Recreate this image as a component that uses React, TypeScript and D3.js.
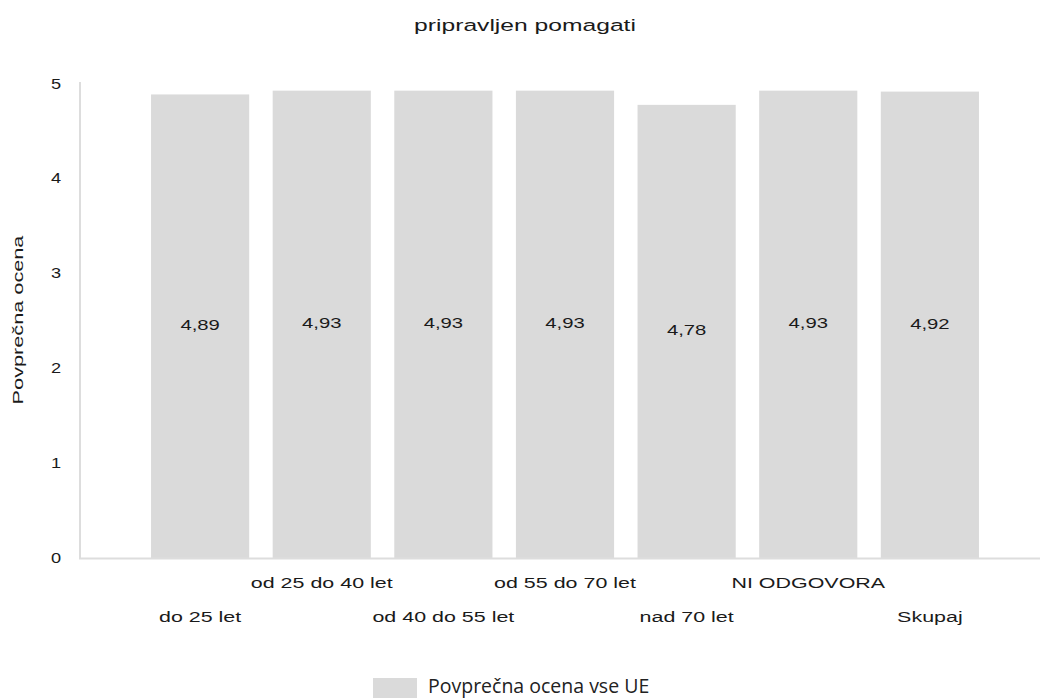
import { useEffect, useRef } from 'react';
import * as d3 from 'd3';

const categories = ['do 25 let', 'od 25 do 40 let', 'od 40 do 55 let', 'od 55 do 70 let', 'nad 70 let', 'NI ODGOVORA', 'Skupaj'];
const values = [4.89, 4.93, 4.93, 4.93, 4.78, 4.93, 4.92];
const yTicks = [0, 1, 2, 3, 4, 5];
const title = 'pripravljen pomagati';
const yLabel = 'Povprečna ocena';
const legendLabel = 'Povprečna ocena vse UE';

const WIDTH = 1041;
const HEIGHT = 700;
const BAR_COLOR = '#dadada';
const AXIS_COLOR = '#dddddd';
const TEXT_COLOR = '#1a1a1a';
const FONT = '"Liberation Sans", Arial, sans-serif';

const App = () => {
  const svgRef = useRef<SVGSVGElement>(null);

  useEffect(() => {
    if (!svgRef.current) return;
    const svg = d3.select(svgRef.current);
    svg.selectAll('*').remove();

    const y = d3.scaleLinear().domain([0, 5]).range([558, 84]);
    const x = d3.scaleBand<string>()
      .domain(categories)
      .range([139.3, 990.7])
      .paddingInner(0.193)
      .paddingOuter(0.0965);

    const fmt = (v: number) => d3.format('.2f')(v).replace('.', ',');

    // title
    svg.append('text')
      .attr('transform', 'translate(525,31) scale(1.45,1)')
      .attr('text-anchor', 'middle')
      .attr('font-family', FONT)
      .attr('font-size', 17)
      .attr('fill', TEXT_COLOR)
      .text(title);

    // bars
    svg.append('g')
      .selectAll('rect')
      .data(values)
      .join('rect')
      .attr('x', (d, i) => x(categories[i])!)
      .attr('y', d => y(d))
      .attr('width', x.bandwidth())
      .attr('height', d => y(0) - y(d))
      .attr('fill', BAR_COLOR);

    // axis lines
    svg.append('line')
      .attr('x1', 80).attr('x2', 80)
      .attr('y1', 82).attr('y2', y(0))
      .attr('stroke', AXIS_COLOR)
      .attr('stroke-width', 2);
    svg.append('line')
      .attr('x1', 79).attr('x2', 1040)
      .attr('y1', y(0) + 0.5).attr('y2', y(0) + 0.5)
      .attr('stroke', AXIS_COLOR)
      .attr('stroke-width', 2);

    // y tick labels
    svg.append('g')
      .selectAll('text')
      .data(yTicks)
      .join('text')
      .attr('transform', d => `translate(61,${y(d) + 4.5}) scale(1.3,1)`)
      .attr('text-anchor', 'end')
      .attr('font-family', FONT)
      .attr('font-size', 14)
      .attr('fill', TEXT_COLOR)
      .text(d => d);

    // y axis title
    svg.append('text')
      .attr('transform', `translate(23,320) rotate(-90) scale(1.55,1)`)
      .attr('text-anchor', 'middle')
      .attr('font-family', FONT)
      .attr('font-size', 14)
      .attr('fill', TEXT_COLOR)
      .text(yLabel);

    // value labels in the middle of each bar
    svg.append('g')
      .selectAll('text')
      .data(values)
      .join('text')
      .attr('transform', (d, i) => `translate(${x(categories[i])! + x.bandwidth() / 2},${(y(d) + y(0)) / 2 + 4}) scale(1.45,1)`)
      .attr('text-anchor', 'middle')
      .attr('font-family', FONT)
      .attr('font-size', 14)
      .attr('fill', TEXT_COLOR)
      .text(d => fmt(d));

    // category labels, staggered in two rows
    svg.append('g')
      .selectAll('text')
      .data(categories)
      .join('text')
      .attr('transform', (d, i) => `translate(${x(d)! + x.bandwidth() / 2},${i % 2 === 0 ? 622 : 588}) scale(1.43,1)`)
      .attr('text-anchor', 'middle')
      .attr('font-family', FONT)
      .attr('font-size', 15)
      .attr('fill', TEXT_COLOR)
      .text(d => d);

    // legend
    svg.append('rect')
      .attr('x', 373).attr('y', 678)
      .attr('width', 44).attr('height', 20)
      .attr('fill', BAR_COLOR);
    svg.append('text')
      .attr('x', 428).attr('y', 693)
      .attr('font-family', '"Open Sans", "Noto Sans", sans-serif')
      .attr('font-size', 19.5)
      .attr('fill', '#222')
      .text(legendLabel);
  }, []);

  return (
    <svg
      ref={svgRef}
      width={WIDTH}
      height={HEIGHT}
      style={{ position: 'absolute', left: 0, top: 0, background: '#fff' }}
    />
  );
};

export default App;
